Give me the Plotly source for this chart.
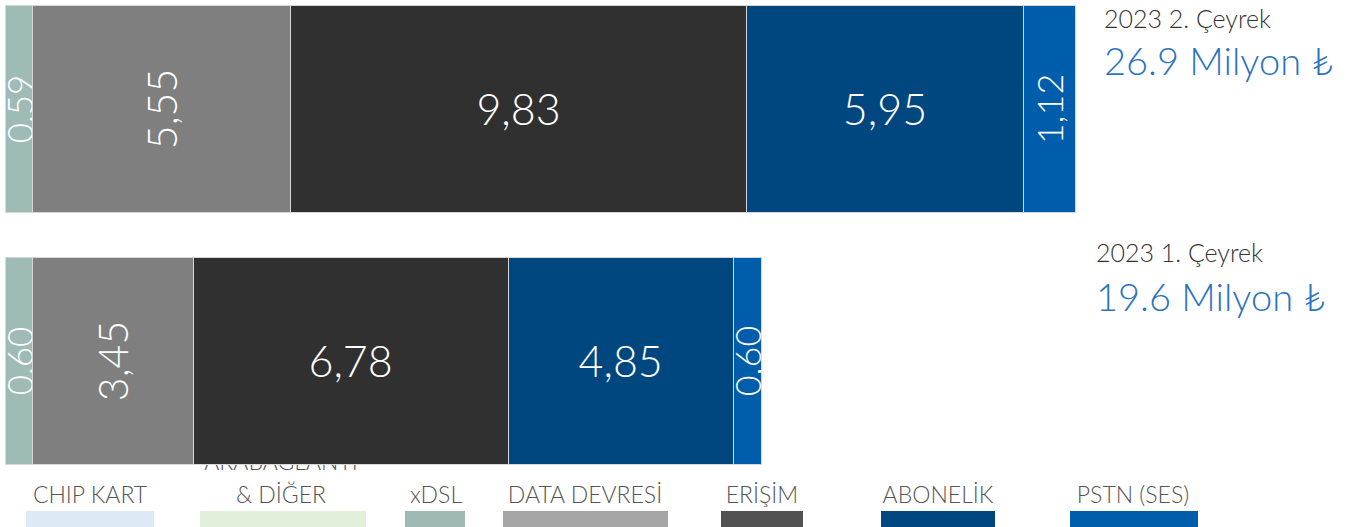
import plotly.graph_objects as go

# Revenue breakdown by service (million TL), two quarters of 2023
periods = ["2023 1. Çeyrek", "2023 2. Çeyrek"]
totals = ["19.6 Milyon ₺", "26.9 Milyon ₺"]

xdsl = [0.60, 0.59]
data_devresi = [3.45, 5.55]
erisim = [6.78, 9.83]
abonelik = [4.85, 5.95]
pstn = [0.60, 1.12]

legend_labels = ["CHIP KART", "ARABAĞLANTI & DİĞER", "xDSL", "DATA DEVRESİ",
                 "ERİŞİM", "ABONELİK", "PSTN (SES)"]

FONT = "Lato, Roboto, 'Open Sans', sans-serif"
W, H = 1366, 527

# name, values, fill colour, label angle, label size
series = [
    ("xDSL", xdsl, "#9fbbb5", -90, 35),
    ("DATA DEVRESİ", data_devresi, "#7f7f7f", -90, 41),
    ("ERİŞİM", erisim, "#303030", 0, 43),
    ("ABONELİK", abonelik, "#004780", 0, 43),
    ("PSTN (SES)", pstn, "#005dac", -90, 36),
]

fig = go.Figure()
for name, vals, color, angle, size in series:
    fig.add_trace(go.Bar(
        name=name, y=periods, x=vals, orientation="h",
        marker=dict(color=color, line=dict(color="#d6d6d6", width=1)),
        texttemplate="%{x:.2f}", textposition="inside",
        insidetextanchor="middle", textangle=angle, constraintext="none",
        textfont=dict(family=FONT, size=size, color="white", weight=300),
        cliponaxis=False, hoverinfo="skip", showlegend=False,
    ))

# legend row: swatches and labels drawn on a pixel-scaled helper axis
swatch_colors = ["#dde9f5", "#e2efdb", "#9fbab5", "#a5a5a5", "#525252", "#004781", "#005dac"]
swatch_x = [(26, 154), (200, 366), (405, 465), (503, 668), (721, 803), (881, 995), (1070, 1198)]
label_x = [90, 281, 436, 585, 762, 938, 1133]

txt_x, txt_y, txt = [], [], []
for lab, cx in zip(legend_labels, label_x):
    if lab.startswith("ARABAĞLANTI"):
        txt_x += [cx, cx]
        txt_y += [464, 497]
        txt += ["ARABAĞLANTI", "& DİĞER"]
    else:
        txt_x.append(cx)
        txt_y.append(497)
        txt.append(lab)

fig.add_trace(go.Scatter(
    x=txt_x, y=txt_y, text=txt, mode="text", xaxis="x2", yaxis="y2",
    textfont=dict(family=FONT, size=23, color="#555555", weight=300),
    cliponaxis=True, hoverinfo="skip", showlegend=False,
))

shapes = []
for (x0, x1), c in zip(swatch_x, swatch_colors):
    shapes.append(dict(type="rect", xref="x2", yref="y2", x0=x0, x1=x1, y0=511, y1=530,
                       fillcolor=c, line=dict(width=0), layer="above"))

# period captions and totals to the right of each bar
caption_pos = [(1094, 252, 296), (1102, 18, 60)]
annotations = []
for per, tot, (px, y_cap, y_tot) in zip(periods, totals, caption_pos):
    annotations.append(dict(text=per, xref="paper", yref="paper", x=px / W, y=1 - y_cap / H,
                            xanchor="left", yanchor="middle", showarrow=False,
                            font=dict(family=FONT, size=25, color="#333333", weight=300)))
    annotations.append(dict(text=tot, xref="paper", yref="paper", x=px / W, y=1 - y_tot / H,
                            xanchor="left", yanchor="middle", showarrow=False,
                            font=dict(family=FONT, size=38, color="#2a74bf", weight=300)))

px_per_unit = 46.45
fig.update_layout(
    width=W, height=H, margin=dict(l=0, r=0, t=0, b=0),
    paper_bgcolor="white", plot_bgcolor="white",
    barmode="stack", bargap=0.175, separators=",.",
    xaxis=dict(range=[-5 / px_per_unit, (W - 5) / px_per_unit], visible=False, fixedrange=True),
    yaxis=dict(type="category", categoryorder="array", categoryarray=periods,
               range=[1.4325 - H / 252, 1.4325], visible=False, fixedrange=True),
    xaxis2=dict(range=[0, W], domain=[0, 1], anchor="y2", visible=False),
    yaxis2=dict(range=[H, 465], domain=[0, (H - 465) / H], anchor="x2", visible=False),
    shapes=shapes, annotations=annotations,
)

fig.write_html("out.html")
